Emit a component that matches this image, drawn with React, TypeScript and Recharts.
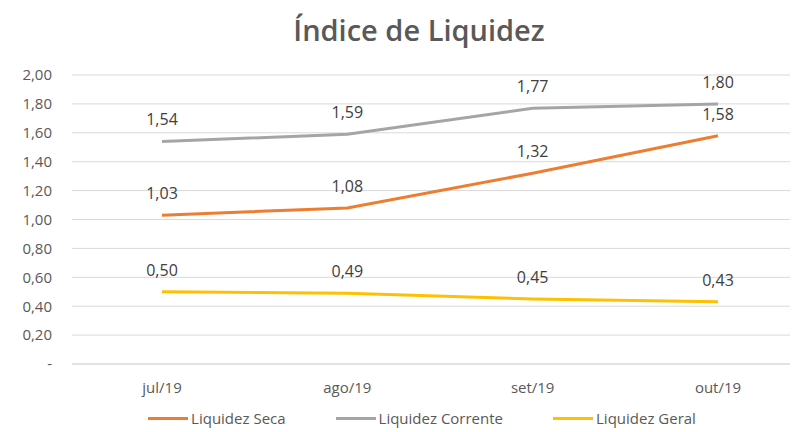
import { CartesianGrid, LabelList, Line, LineChart, XAxis, YAxis } from "recharts";

const months = ["jul/19", "ago/19", "set/19", "out/19"];
const seca = [1.03, 1.08, 1.32, 1.58];
const corrente = [1.54, 1.59, 1.77, 1.8];
const geral = [0.5, 0.49, 0.45, 0.43];
const yTicks = [0, 0.2, 0.4, 0.6, 0.8, 1.0, 1.2, 1.4, 1.6, 1.8, 2.0];

const series = [
  { key: "seca", name: "Liquidez Seca", color: "#ED7D31" },
  { key: "corrente", name: "Liquidez Corrente", color: "#A5A5A5" },
  { key: "geral", name: "Liquidez Geral", color: "#FFC000" },
];

const data = months.map((m, i) => ({
  month: m,
  seca: seca[i],
  corrente: corrente[i],
  geral: geral[i],
}));

const FONT = "'Open Sans', 'Noto Sans', sans-serif";
const fmt = (v: number) => (v === 0 ? "-" : v.toFixed(2).replace(".", ","));

export default function App() {
  return (
    <div style={{ position: "absolute", left: 0, top: 0, width: 800, height: 432, background: "#fff" }}>
      <div
        style={{
          position: "absolute",
          top: 10,
          left: 19,
          width: 800,
          textAlign: "center",
          fontFamily: FONT,
          fontWeight: 600,
          fontSize: 29,
          color: "#595959",
        }}
      >
        Índice de Liquidez
      </div>
      <LineChart
        width={800}
        height={432}
        data={data}
        margin={{ top: 75, right: 10, bottom: 38, left: 0 }}
      >
        <CartesianGrid vertical={false} stroke="#D9D9D9" />
        <XAxis
          dataKey="month"
          height={30}
          padding={{ left: 90, right: 72 }}
          tickLine={false}
          axisLine={{ stroke: "#D9D9D9" }}
          tick={{ fill: "#595959", fontSize: 15, fontFamily: FONT }}
          tickMargin={12}
        />
        <YAxis
          width={72}
          domain={[0, 2]}
          ticks={yTicks}
          tickFormatter={fmt}
          tickLine={false}
          axisLine={false}
          tickMargin={14}
          tick={{ fill: "#595959", fontSize: 15, fontFamily: FONT }}
        />
        {series.map((s) => (
          <Line
            key={s.key}
            dataKey={s.key}
            name={s.name}
            stroke={s.color}
            strokeWidth={3}
            dot={false}
            isAnimationActive={false}
          >
            <LabelList
              dataKey={s.key}
              position="top"
              offset={16}
              formatter={(v: number) => fmt(v)}
              style={{ fill: "#404040", fontSize: 16, fontFamily: FONT }}
            />
          </Line>
        ))}
      </LineChart>
      <div
        style={{
          position: "absolute",
          top: 408,
          left: 22,
          width: 800,
          display: "flex",
          justifyContent: "center",
          gap: 50,
          fontFamily: FONT,
          fontSize: 15,
          color: "#595959",
        }}
      >
        {series.map((s) => (
          <div key={s.key} style={{ display: "flex", alignItems: "center", gap: 3 }}>
            <span style={{ width: 40, height: 3, background: s.color }} />
            {s.name}
          </div>
        ))}
      </div>
    </div>
  );
}
